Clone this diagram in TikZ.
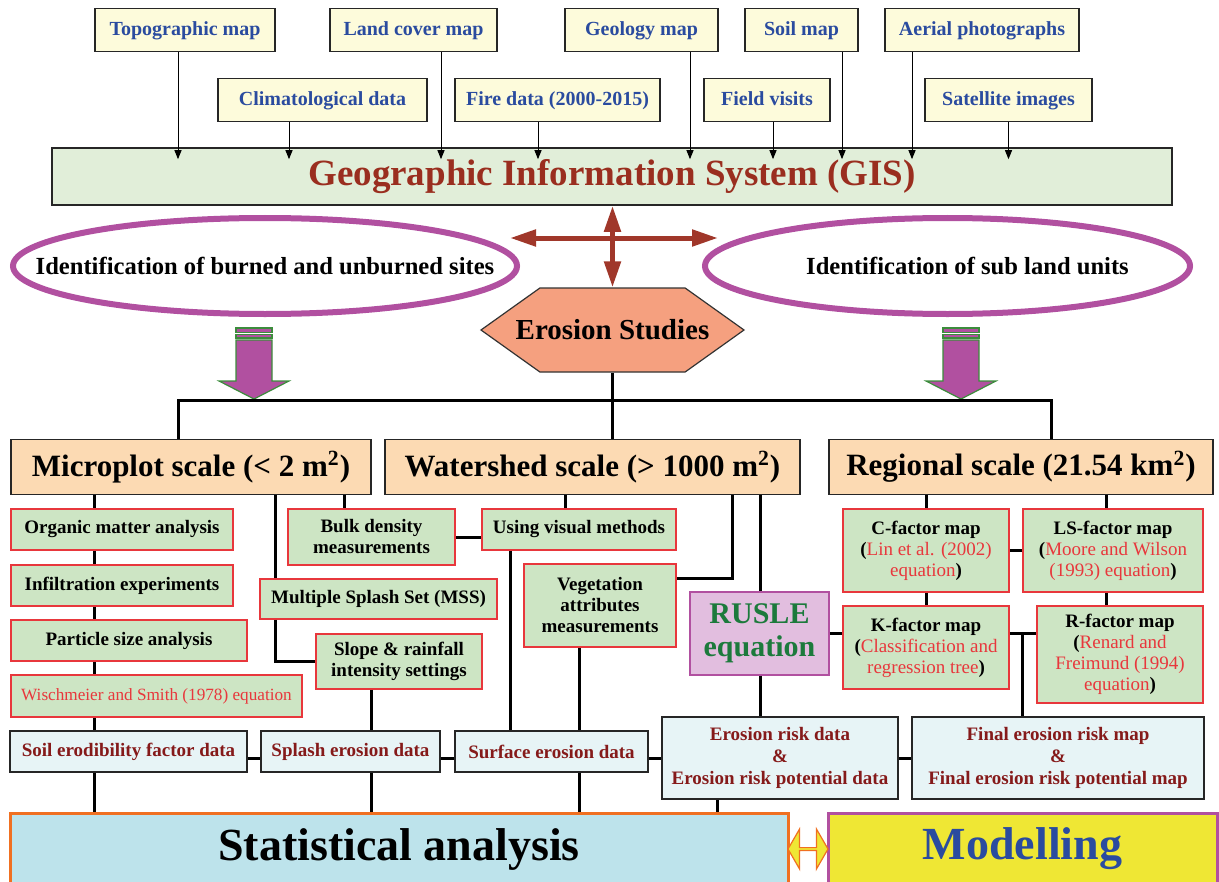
\documentclass[tikz,border=0pt]{standalone}
\usepackage{fontspec}
\setmainfont{Liberation Serif}
\usetikzlibrary{arrows.meta,shapes.geometric,shapes.symbols,shapes.arrows}

\definecolor{inputfill}{HTML}{FDFBDB}
\definecolor{inputtext}{HTML}{2A4B9F}
\definecolor{gisfill}{HTML}{E1EED9}
\definecolor{gisred}{HTML}{9A2E1F}
\definecolor{crossred}{HTML}{A0372A}
\definecolor{ovalpurple}{HTML}{B150A0}
\definecolor{arrowgreen}{HTML}{3C8C3C}
\definecolor{hexfill}{HTML}{F5A07F}
\definecolor{scalefill}{HTML}{FCDAB3}
\definecolor{taskfill}{HTML}{CDE5C4}
\definecolor{taskred}{HTML}{E8373C}
\definecolor{datafill}{HTML}{E7F4F6}
\definecolor{datatext}{HTML}{851A1A}
\definecolor{ruslefill}{HTML}{E2BEDF}
\definecolor{rusletext}{HTML}{1C7A3C}
\definecolor{statfill}{HTML}{BDE3EB}
\definecolor{statorange}{HTML}{F07021}
\definecolor{modelfill}{HTML}{EFE734}

\newcommand{\srcnote}[1]{\textcolor{taskred}{\mdseries #1}}

\begin{document}
\begin{tikzpicture}[x=0.5pt,y=-0.5pt]

      \tikzset{input/.style={draw=black!85, line width=0.8pt, fill=inputfill, text=inputtext, font=\bfseries\fontsize{10}{12}\selectfont, minimum height=21.5pt, inner sep=2pt, text height=1.6ex, text depth=0.45ex},
               feed/.style={-{Triangle[length=4.5pt,width=3.5pt]}, line width=0.5pt},
               gisbox/.style={draw=black!85, line width=0.8pt, fill=gisfill, text=gisred, font=\bfseries\fontsize{18.5}{20}\selectfont},
               cross/.style={{Triangle[length=13pt,width=8pt]}-{Triangle[length=13pt,width=8pt]}, line width=2.5pt, draw=crossred},
               oval/.style={ellipse, draw=ovalpurple, line width=3pt, inner sep=0pt},
               ovaltext/.style={font=\bfseries\fontsize{12.3}{14}\selectfont},
               hexa/.style={signal, signal to=west and east, signal pointer angle=71, draw=black!80, line width=0.6pt, fill=hexfill, inner sep=0pt},
               hexatext/.style={font=\bfseries\fontsize{14.5}{16}\selectfont},
               blockarrow/.style={fill=ovalpurple, draw=arrowgreen, line width=0.6pt},
               scalebox/.style={draw=black!85, line width=0.8pt, fill=scalefill, font=\bfseries\fontsize{15.5}{17}\selectfont, minimum height=27.5pt},
               task/.style={draw=taskred, line width=0.8pt, fill=taskfill, font=\bfseries\fontsize{9.5}{10.5}\selectfont, align=center, inner sep=1pt},
               databox/.style={draw=black!85, line width=0.8pt, fill=datafill, text=datatext, font=\bfseries\fontsize{9.5}{11}\selectfont, align=center, inner sep=1pt},
               ruslebox/.style={draw=ovalpurple, line width=0.8pt, fill=ruslefill, text=rusletext, font=\bfseries\fontsize{15}{16.5}\selectfont, align=center},
               statbox/.style={draw=statorange, line width=1.5pt, fill=statfill, font=\bfseries\fontsize{23}{25}\selectfont},
               modelbox/.style={draw=ovalpurple, line width=1.5pt, fill=modelfill, text=inputtext, font=\bfseries\fontsize{23}{25}\selectfont},
               swap/.style={double arrow, double arrow head extend=4pt, double arrow tip angle=120, draw=statorange, line width=0.6pt, fill=modelfill, inner sep=0pt},
               wire/.style={line width=1.5pt}}

      \useasboundingbox (0,0) rectangle (1219,882);

%% Data sources
      \node[input, minimum width=90pt] (topo) at (185,30) {Topographic map};
      \node[input, minimum width=83.5pt] (landcover) at (413.5,30) {Land cover map};
      \node[input, minimum width=76.5pt] (geology) at (641.5,30) {Geology map};
      \node[input, minimum width=56.5pt] (soilmap) at (801.5,30) {Soil map};
      \node[input, minimum width=97pt] (aerial) at (982,30) {Aerial photographs};
      \node[input, minimum width=104.5pt] (climate) at (322.5,100) {Climatological data};
      \node[input, minimum width=102.5pt] (fire) at (557.5,100) {Fire data (2000-2015)};
      \node[input, minimum width=63pt] (field) at (767,100) {Field visits};
      \node[input, minimum width=83.5pt] (satellite) at (1008.5,100) {Satellite images};

      \node[gisbox, minimum width=560pt, minimum height=28.5pt] (gis) at (612,176.5) {Geographic Information System (GIS)};

%% Identification and erosion studies
      \node[oval, minimum width=252pt, minimum height=48pt, label={[ovaltext]center:Identification of burned and unburned sites}] (burned) at (265,266) {};
      \node[oval, minimum width=242.5pt, minimum height=48pt, label={[ovaltext, xshift=10pt]center:Identification of sub land units}] (subunits) at (947.5,266) {};
      \node[hexa, minimum width=131.5pt, minimum height=42pt, label={[hexatext]center:Erosion Studies}] (erosion) at (612.5,330) {};

      \coordinate (crossW) at (510,238);
      \coordinate (crossE) at (718,238);
      \coordinate (bus) at (613,400);

%% Scales
      \node[scalebox, minimum width=180pt] (micro) at (191,467) {Microplot scale (< 2 m\textsuperscript{2})};
      \node[scalebox, minimum width=207.5pt] (water) at (592.5,467) {Watershed scale (> 1000 m\textsuperscript{2})};
      \node[scalebox, minimum width=192pt] (region) at (1021,467) {Regional scale (21.54 km\textsuperscript{2})};

%% Microplot tasks
      \node[task, minimum width=111pt, minimum height=20.5pt] (organic) at (122,529.5) {Organic matter analysis};
      \node[task, minimum width=111pt, minimum height=20.5pt] (infil) at (122,585.5) {Infiltration experiments};
      \node[task, minimum width=118pt, minimum height=20.5pt] (particle) at (129,640.5) {Particle size analysis};
      \node[task, minimum width=145.5pt, minimum height=21pt, font=\fontsize{8.6}{10}\selectfont] (wisch) at (156.5,696) {\srcnote{Wischmeier and Smith (1978) equation}};
      \node[task, minimum width=83.5pt, minimum height=28pt] (bulk) at (371.5,537) {Bulk density\\measurements};
      \node[task, minimum width=118.5pt, minimum height=20pt] (mss) at (378.5,599) {Multiple Splash Set (MSS)};
      \node[task, minimum width=83pt, minimum height=27.5pt] (slope) at (399,661.5) {Slope \& rainfall\\intensity settings};

%% Watershed tasks
      \node[task, minimum width=97pt, minimum height=20.5pt] (visual) at (579,529.5) {Using visual methods};
      \node[task, minimum width=76pt, minimum height=41.5pt] (veget) at (600,605.5) {Vegetation\\attributes\\measurements};
      \node[ruslebox, minimum width=69.5pt, minimum height=41.5pt] (rusle) at (759.5,633.5) {RUSLE\\equation};

%% Regional factor maps
      \node[task, minimum width=83pt, minimum height=41.5pt] (cfac) at (926,550.5) {C-factor map\\(\srcnote{Lin et al. (2002)}\\\srcnote{equation})};
      \node[task, minimum width=90pt, minimum height=41.5pt] (lsfac) at (1113,550.5) {LS-factor map\\(\srcnote{Moore and Wilson}\\\srcnote{(1993) equation})};
      \node[task, minimum width=83pt, minimum height=41.5pt] (kfac) at (926,647.5) {K-factor map\\(\srcnote{Classification and}\\\srcnote{regression tree})};
      \node[task, minimum width=83pt, minimum height=48.5pt] (rfac) at (1120,654.5) {R-factor map\\(\srcnote{Renard and}\\\srcnote{Freimund (1994)}\\\srcnote{equation})};

%% Outputs
      \node[databox, minimum width=118.5pt, minimum height=20.5pt] (erod) at (128.5,751.5) {Soil erodibility factor data};
      \node[databox, minimum width=89.5pt, minimum height=20.5pt] (splash) at (350.5,751.5) {Splash erosion data};
      \node[databox, minimum width=96.5pt, minimum height=20.5pt] (surface) at (551.5,751.5) {Surface erosion data};
      \node[databox, minimum width=118pt, minimum height=41pt] (risk) at (780,758) {Erosion risk data\\\&\\Erosion risk potential data};
      \node[databox, minimum width=146pt, minimum height=41pt] (final) at (1058,758) {Final erosion risk map\\\&\\Final erosion risk potential map};

      \node[statbox, minimum width=389pt, minimum height=36pt] (stat) at (399,849) {Statistical analysis};
      \node[modelbox, minimum width=194.5pt, minimum height=36pt] (model) at (1022.5,849) {Modelling};
      \node[swap, minimum width=20pt, minimum height=20pt] (exchange) at (808,849) {};

%% Column positions of the connectors
      \coordinate (colsoil) at (94,0);
      \coordinate (colslope) at (275,0);
      \coordinate (colbulk) at (344,0);
      \coordinate (colsplash) at (371,0);
      \coordinate (colvisual) at (565,0);
      \coordinate (colsurfA) at (510,0);
      \coordinate (colsurfB) at (579,0);
      \coordinate (colveget) at (732,0);
      \coordinate (colrusle) at (760,0);
      \coordinate (colrisk) at (717,0);
      \coordinate (colC) at (926,0);
      \coordinate (colLS) at (1106,0);
      \coordinate (colfinal) at (1022,0);
      \coordinate (colmicro) at (178,0);
      \coordinate (colregion) at (1051,0);

%Arrows into the GIS
      \path[feed] ([xshift=-3.5pt]topo.south) edge ([xshift=-3.5pt,yshift=-6pt]topo.south |- gis.north);
      \path[feed] ([xshift=13.75pt]landcover.south) edge ([xshift=13.75pt,yshift=-6pt]landcover.south |- gis.north);
      \path[feed] ([xshift=24.25pt]geology.south) edge ([xshift=24.25pt,yshift=-6pt]geology.south |- gis.north);
      \path[feed] ([xshift=20.25pt]soilmap.south) edge ([xshift=20.25pt,yshift=-6pt]soilmap.south |- gis.north);
      \path[feed] ([xshift=-35pt]aerial.south) edge ([xshift=-35pt,yshift=-6pt]aerial.south |- gis.north);
      \path[feed] ([xshift=-16.75pt]climate.south) edge ([xshift=-16.75pt,yshift=-6pt]climate.south |- gis.north);
      \path[feed] ([xshift=-9.75pt]fire.south) edge ([xshift=-9.75pt,yshift=-6pt]fire.south |- gis.north);
      \path[feed] ([xshift=3pt]field.south) edge ([xshift=3pt,yshift=-6pt]field.south |- gis.north);
      \path[feed] (satellite.south) edge ([yshift=-6pt]satellite.south |- gis.north);

%Cross between GIS, sites and units
      \draw[cross] (gis.south -| erosion.north) -- (erosion.north);
      \draw[cross] (crossW) -- (crossE);

%Block arrows
      \filldraw[blockarrow] (236,328) rectangle (272,332.5);
      \filldraw[blockarrow] (236,334.5) rectangle (272,338);
      \filldraw[blockarrow] (236,340) -- (272,340) -- (272,381) -- (289,381) -- (254,399) -- (219,381) -- (236,381) -- cycle;
      \filldraw[blockarrow] (943,328) rectangle (979,332.5);
      \filldraw[blockarrow] (943,334.5) rectangle (979,338);
      \filldraw[blockarrow] (943,340) -- (979,340) -- (979,381) -- (996,381) -- (961,399) -- (926,381) -- (943,381) -- cycle;

%Tree
      \draw[wire] (erosion.south) -- (erosion.south |- water.north);
      \draw[wire] (micro.north -| colmicro) |- (bus) -| (region.north -| colregion);

      \draw[wire] (micro.south -| colsoil) -- (organic.north -| colsoil);
      \draw[wire] (organic.south -| colsoil) -- (infil.north -| colsoil);
      \draw[wire] (infil.south -| colsoil) -- (particle.north -| colsoil);
      \draw[wire] (particle.south -| colsoil) -- (wisch.north -| colsoil);
      \draw[wire] (wisch.south -| colsoil) -- (erod.north -| colsoil);
      \draw[wire] (erod.south -| colsoil) -- (stat.north -| colsoil);

      \draw[wire] (micro.south -| colslope) -- (mss.north -| colslope);
      \draw[wire] (mss.south -| colslope) |- (slope.west);
      \draw[wire] (micro.south -| colbulk) -- (bulk.north -| colbulk);
      \draw[wire] (bulk.east) -- (bulk.east -| visual.west);
      \draw[wire] (slope.south -| colsplash) -- (splash.north -| colsplash);
      \draw[wire] (splash.south -| colsplash) -- (stat.north -| colsplash);

      \draw[wire] (water.south -| colvisual) -- (visual.north -| colvisual);
      \draw[wire] (visual.south -| colsurfA) -- (surface.north -| colsurfA);
      \draw[wire] (water.south -| colveget) |- ([yshift=13.75pt]veget.east);
      \draw[wire] (veget.south -| colsurfB) -- (surface.north -| colsurfB);
      \draw[wire] (surface.south -| colsurfB) -- (stat.north -| colsurfB);
      \draw[wire] (water.south -| colrusle) -- (rusle.north -| colrusle);
      \draw[wire] (rusle.south -| colrusle) -- (risk.north -| colrusle);
      \draw[wire] (rusle.east) -- (rusle.east -| kfac.west);
      \draw[wire] (risk.south -| colrisk) -- (stat.north -| colrisk);

      \draw[wire] (region.south -| colC) -- (cfac.north -| colC);
      \draw[wire] (cfac.south -| colC) -- (kfac.north -| colC);
      \draw[wire] (region.south -| colLS) -- (lsfac.north -| colLS);
      \draw[wire] (lsfac.south -| colLS) -- (rfac.north -| colLS);
      \draw[wire] (cfac.east) -- (lsfac.west);
      \draw[wire] ([yshift=7pt]kfac.east) -- ([yshift=7pt]kfac.east -| rfac.west);
      \draw[wire] ([yshift=7pt]kfac.east -| colfinal) -- (final.north -| colfinal);

      \draw[wire] ([yshift=-3.25pt]erod.east) -- ([yshift=-3.25pt]splash.west);
      \draw[wire] ([yshift=-3.25pt]splash.east) -- ([yshift=-3.25pt]surface.west);
      \draw[wire] (risk.west -| surface.east) -- (risk.west);
      \draw[wire] (risk.east) -- (final.west);

\end{tikzpicture}
\end{document}
